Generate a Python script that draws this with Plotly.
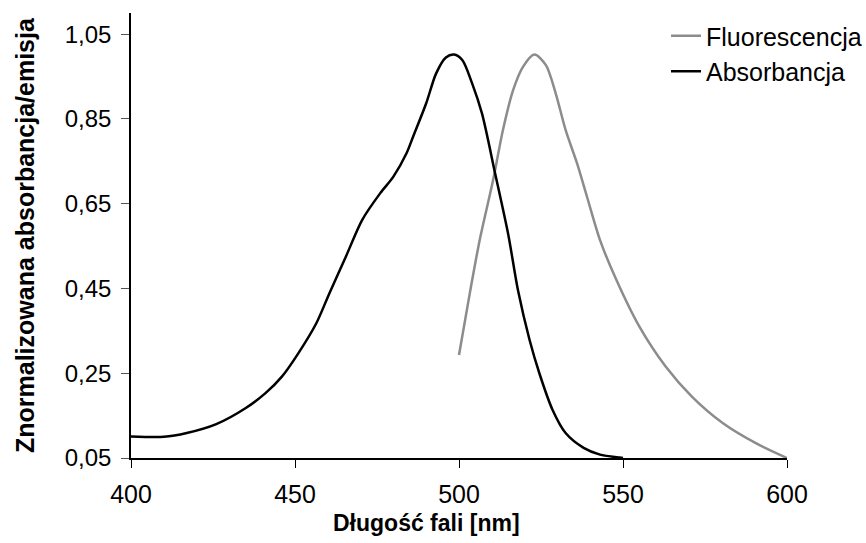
import plotly.graph_objects as go

abs_nm = [400, 410, 417, 426, 435, 441, 446, 451, 456.5, 460.5, 465.5, 470.5, 476, 480, 484, 486, 490, 493, 496, 498.5, 501, 504, 507, 511, 515, 518, 521.5, 524.5, 528.5, 532.5, 538, 543, 549, 550]
abs_val = [0.101, 0.100, 0.109, 0.130, 0.168, 0.203, 0.242, 0.297, 0.368, 0.439, 0.525, 0.612, 0.675, 0.714, 0.769, 0.808, 0.887, 0.957, 0.995, 1.002, 0.989, 0.934, 0.863, 0.722, 0.578, 0.445, 0.329, 0.250, 0.164, 0.109, 0.074, 0.058, 0.051, 0.050]

fl_nm = [500, 503.3, 506.3, 510.4, 513.4, 516.5, 519.5, 523, 526.5, 529.5, 532.5, 536, 539, 543, 548, 555, 563, 571, 580.5, 590.5, 600]
fl_val = [0.293, 0.439, 0.564, 0.706, 0.824, 0.918, 0.973, 1.002, 0.977, 0.910, 0.824, 0.745, 0.667, 0.564, 0.470, 0.360, 0.266, 0.195, 0.132, 0.085, 0.050]

y_ticks = [0.05, 0.25, 0.45, 0.65, 0.85, 1.05]
x_ticks = [400, 450, 500, 550, 600]

FONT = "Liberation Sans, Arial, sans-serif"
W, H = 866, 543
ML, MR, MT, MB = 131, 79, 13, 85
plot_w = W - ML - MR
plot_h = H - MT - MB

fig = go.Figure()
fig.add_trace(go.Scatter(x=fl_nm, y=fl_val, mode="lines", name="Fluorescencja",
                         line=dict(color="#8c8c8c", width=2.5, shape="spline", smoothing=0.8)))
fig.add_trace(go.Scatter(x=abs_nm, y=abs_val, mode="lines", name="Absorbancja",
                         line=dict(color="#000000", width=2.5, shape="spline", smoothing=0.8)))

fig.update_layout(
    width=W, height=H,
    margin=dict(l=ML, r=MR, t=MT, b=MB, autoexpand=False),
    paper_bgcolor="white", plot_bgcolor="white",
    separators=", ",
    font=dict(family=FONT, size=22, color="black"),
    showlegend=True,
    legend=dict(xref="container", yref="container", x=666 / W, y=1 - 13 / H,
                xanchor="left", yanchor="top",
                bgcolor="rgba(0,0,0,0)", font=dict(size=25), itemwidth=30,
                tracegroupgap=0),
    xaxis=dict(range=[400, 600], tickvals=x_ticks, showline=True, linecolor="black",
               linewidth=1.5, ticks="outside", ticklen=8, tickcolor="black", showgrid=False,
               zeroline=False, tickfont=dict(size=25), ticklabelstandoff=5, automargin=False),
    yaxis=dict(range=[0.05, 1.10], tickvals=y_ticks, tickformat=".2f", showline=True,
               linecolor="black", linewidth=1.5, ticks="outside", ticklen=8,
               tickcolor="#555555", showgrid=False, zeroline=False, tickfont=dict(size=24),
               ticklabelstandoff=5, automargin=False),
)
fig.add_annotation(text="<b>Długość fali [nm]</b>", xref="paper", yref="paper",
                   x=(426 - ML) / plot_w, y=-(523 - (H - MB)) / plot_h,
                   showarrow=False, font=dict(size=23), xanchor="center", yanchor="middle")
fig.add_annotation(text="<b>Znormalizowana absorbancja/emisja</b>", xref="paper", yref="paper",
                   x=-(ML - 25) / plot_w, y=((H - MB) - 235) / plot_h, textangle=-90,
                   showarrow=False, font=dict(size=25), xanchor="center", yanchor="middle")

fig.write_html("out.html", config={"displayModeBar": False},
               post_script="document.body.style.margin='0';")
